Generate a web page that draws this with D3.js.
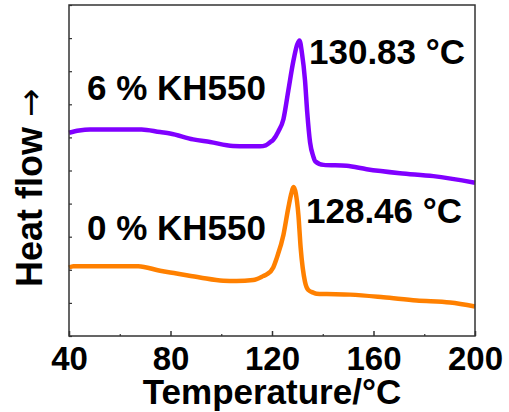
<!DOCTYPE html>
<html><head><meta charset="utf-8">
<script src="https://cdn.jsdelivr.net/npm/d3@7"></script>
<style>body{margin:0;background:#fff}svg{display:block}</style>
</head><body>
<svg id="c" width="509" height="412"></svg>
<script>
const xTicks = [40, 80, 120, 160, 200];
const xMinorTicks = [60, 100, 140, 180];
const yTicks = [0,1,2,3,4,5,6,7,8,9,10];
const seriesNames = ["6 % KH550", "0 % KH550"];
const peakLabels = ["130.83 °C", "128.46 °C"];
const tempPurple = [40,44,48.3,60,68.6,75.9,79.8,88.9,95.6,104.6,110,115.3,117.5,119.2,120.5,122.5,124.5,126.4,128.4,129.9,130.83,131.8,133,133.9,135,136.3,137,140.3,149.4,157.3,170.4,183.6,200];
const flowPurple = [6.14,6.21,6.24,6.24,6.24,6.16,6.12,5.94,5.86,5.74,5.73,5.73,5.76,5.85,5.93,6.18,6.55,7.4,8.3,8.8,8.93,8.55,7.73,6.74,5.85,5.42,5.28,5.17,5.14,5.04,4.92,4.83,4.63];
const tempOrange = [40,41.7,55,67.3,75.9,82.4,91.6,100.8,106,112.6,116.6,117.9,120.5,121.9,124.5,126.4,127.6,128.46,129.4,130.4,131.3,133,134.3,136.3,137.6,141.6,150.8,163.9,177,190.2,200];
const flowOrange = [2.07,2.11,2.11,2.11,1.97,1.89,1.77,1.67,1.66,1.69,1.81,1.86,2.07,2.36,3.05,3.86,4.3,4.5,4.3,3.66,2.66,1.64,1.39,1.31,1.28,1.27,1.25,1.17,1.07,1.01,0.89];

const svg = d3.select("#c");
const L = 69, R = 475, T = 5, B = 336;
const x = d3.scaleLinear().domain([40, 200]).range([L, R]);
const y = d3.scaleLinear().domain([0, 10]).range([B, T]);
const font = "'Liberation Sans', Arial, sans-serif";

// curves
const line = d3.line().x(d => x(d[0])).y(d => y(d[1])).curve(d3.curveMonotoneX);
const series = [
  {t: tempPurple, v: flowPurple, color: "#8000ff"},
  {t: tempOrange, v: flowOrange, color: "#ff8000"}
];
series.forEach(s => {
  svg.append("path")
    .datum(s.t.map((t, i) => [t, s.v[i]]))
    .attr("d", line)
    .attr("fill", "none")
    .attr("stroke", s.color)
    .attr("stroke-width", 4.5)
    .attr("stroke-linejoin", "round");
});

// frame
svg.append("rect").attr("x", L).attr("y", T).attr("width", R - L).attr("height", B - T)
  .attr("fill", "none").attr("stroke", "#333").attr("stroke-width", 1.5);

// x axis
const gx = svg.append("g").attr("transform", `translate(0,${B})`)
  .call(d3.axisBottom(x).tickValues(xTicks).tickSize(-5).tickPadding(11).tickFormat(d3.format("d")));
gx.select(".domain").remove();
gx.selectAll("line").attr("stroke", "#333").attr("stroke-width", 1.5);
gx.selectAll("text").attr("font-family", font).attr("font-weight", "bold")
  .attr("font-size", 33).attr("fill", "#000");
const gxm = svg.append("g").attr("transform", `translate(0,${B})`)
  .call(d3.axisBottom(x).tickValues(xMinorTicks).tickSize(-2).tickFormat(""));
gxm.select(".domain").remove();
gxm.selectAll("line").attr("stroke", "#333").attr("stroke-width", 1.2);

// y axis ticks (no labels)
const gy = svg.append("g").attr("transform", `translate(${L},0)`)
  .call(d3.axisLeft(y).tickValues(yTicks).tickSize(-3).tickFormat(""));
gy.select(".domain").remove();
gy.selectAll("line").attr("stroke", "#333").attr("stroke-width", 1.2);

// axis titles
svg.append("text").attr("x", (L + R) / 2).attr("y", 404).attr("text-anchor", "middle")
  .attr("font-family", font).attr("font-weight", "bold").attr("font-size", 35)
  .text("Temperature/°C");
const yt = svg.append("text").attr("transform", "translate(42,287) rotate(-90)")
  .attr("font-family", font).attr("font-weight", "bold").attr("font-size", 36);
yt.append("tspan").text("Heat flow ");
yt.append("tspan").attr("font-family", "'DejaVu Sans', sans-serif").attr("font-weight", "normal")
  .attr("font-size", 34).text("→");

// labels
const lab = (txt, xx, yy) => svg.append("text").attr("x", xx).attr("y", yy)
  .attr("font-family", font).attr("font-weight", "bold").attr("font-size", 35).text(txt);
lab(seriesNames[0], 87, 100);
lab(peakLabels[0], 309, 64);
lab(seriesNames[1], 87, 240);
lab(peakLabels[1], 306, 223);
</script>
</body></html>
